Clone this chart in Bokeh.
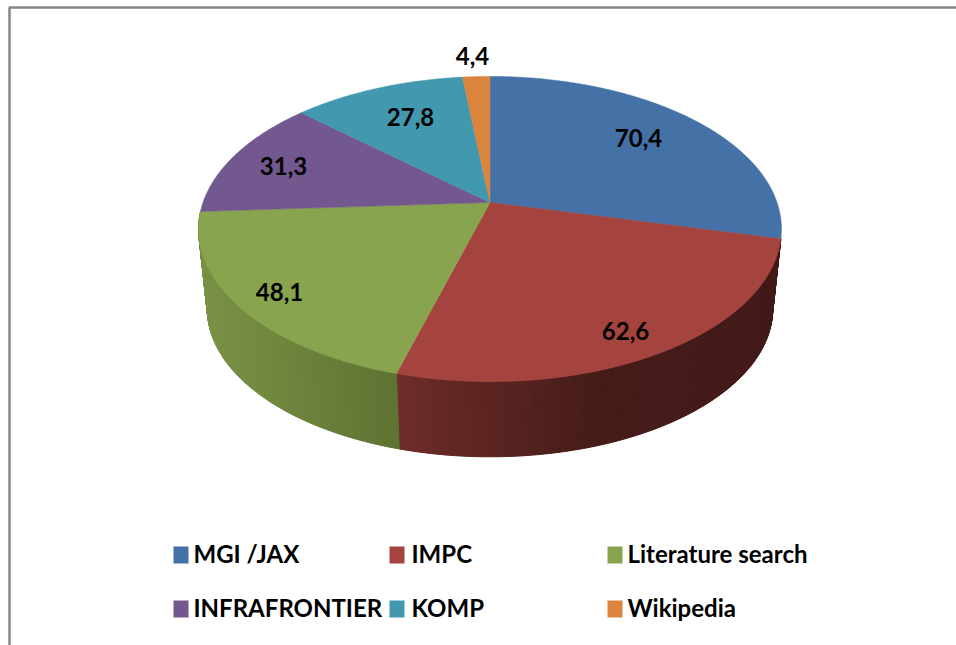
import math
from bokeh.plotting import figure
from bokeh.models import Range1d
from bokeh.core.properties import value
from bokeh.embed import file_html
from bokeh.resources import INLINE

# data
categories = ["MGI /JAX", "IMPC", "Literature search", "INFRAFRONTIER", "KOMP", "Wikipedia"]
values = [70.4, 62.6, 48.1, 31.3, 27.8, 4.4]
value_labels = ["70,4", "62,6", "48,1", "31,3", "27,8", "4,4"]
colors = ["#4471A6", "#A5433F", "#89A44E", "#72588E", "#4198AF", "#DB843D"]

# layout, in page pixels
W, H = 956, 645
APEX = (489.5, 202.0)
RX, RY, K = 287.0, 148.0, 0.174      # perspective disc
DEPTH, SHRINK = 80.5, 0.97           # lower rim
label_pos = [(638, 137), (625, 330), (279, 291), (283, 165), (410, 116), (472, 55)]
legend_x = [173, 389, 607]
legend_text_x = [193, 411, 627]
legend_y = [554.5, 608.5]
legend_text_dy = -2
swatch = 15
font = value("Lato")
FS = "24px"
wall_stops = {
    1: [(395, (0x6F, 0x2C, 0x2A)), (490, (0x5A, 0x24, 0x21)), (600, (0x45, 0x1B, 0x18)), (790, (0x42, 0x1A, 0x17))],
    2: [(195, (0x7A, 0x92, 0x45)), (300, (0x6C, 0x82, 0x3B)), (397, (0x5E, 0x72, 0x32))],
}


def rim(t_deg, dy=0.0, s=1.0):
    t = math.radians(t_deg)
    u, v = math.sin(t), math.cos(t)
    d = 1 + K * v
    return APEX[0] + s * RX * u / d, APEX[1] + dy - s * RY * v / d


def shade(stops, x):
    if x <= stops[0][0]:
        c = stops[0][1]
    elif x >= stops[-1][0]:
        c = stops[-1][1]
    else:
        for (x0, c0), (x1, c1) in zip(stops, stops[1:]):
            if x0 <= x <= x1:
                f = (x - x0) / (x1 - x0)
                c = tuple(a + (b - a) * f for a, b in zip(c0, c1))
                break
    return "#%02x%02x%02x" % tuple(int(round(a)) for a in c)


p = figure(width=W, height=H, x_range=Range1d(0, W), y_range=Range1d(H, 0),
           output_backend="svg", toolbar_location=None, min_border=0,
           outline_line_color=None, background_fill_color="white")
p.axis.visible = False
p.grid.visible = False

# frame (left and top only)
p.line([9, 9, W], [H, 7, 7], line_color="#868686", line_width=2.5)

total = sum(values)
bounds = [0.0]
for val in values:
    bounds.append(bounds[-1] + val / total * 360.0)

# side wall, only the slices that face the viewer
for i in wall_stops:
    a0, a1 = bounds[i], bounds[i + 1]
    n = max(2, int((a1 - a0) * 2))
    xs, ys, cs = [], [], []
    for j in range(n):
        t0 = a0 + (a1 - a0) * j / n
        t1 = a0 + (a1 - a0) * (j + 1) / n
        q = [rim(t0), rim(t1), rim(t1, DEPTH, SHRINK), rim(t0, DEPTH, SHRINK)]
        xs.append([c[0] for c in q])
        ys.append([c[1] for c in q])
        cs.append(shade(wall_stops[i], (q[0][0] + q[1][0]) / 2))
    p.patches(xs, ys, fill_color=cs, line_color=cs, line_width=1)

# top face
for i, col in enumerate(colors):
    a0, a1 = bounds[i], bounds[i + 1]
    n = max(8, int(a1 - a0) * 2)
    pts = [APEX] + [rim(a0 + (a1 - a0) * j / n) for j in range(n + 1)]
    p.patch([c[0] for c in pts], [c[1] for c in pts], fill_color=col, line_color=col, line_width=0.5)

# value labels
p.text([c[0] for c in label_pos], [c[1] for c in label_pos], text=value_labels,
       text_font=font, text_font_style="bold", text_font_size=FS, text_color="black",
       text_align="center", text_baseline="middle")

# legend
order = [(0, 0), (1, 0), (2, 0), (0, 1), (1, 1), (2, 1)]
sx = [legend_x[c] + swatch / 2 for c, r in order]
sy = [legend_y[r] for c, r in order]
p.rect(sx, sy, width=swatch, height=swatch + 2, fill_color=colors, line_color=None)
p.text([legend_text_x[c] for c, r in order], [y + legend_text_dy for y in sy], text=categories,
       text_font=font, text_font_style="bold", text_font_size=FS, text_color="black",
       text_align="left", text_baseline="middle")

open("out.html", "w").write(file_html(p, INLINE))
